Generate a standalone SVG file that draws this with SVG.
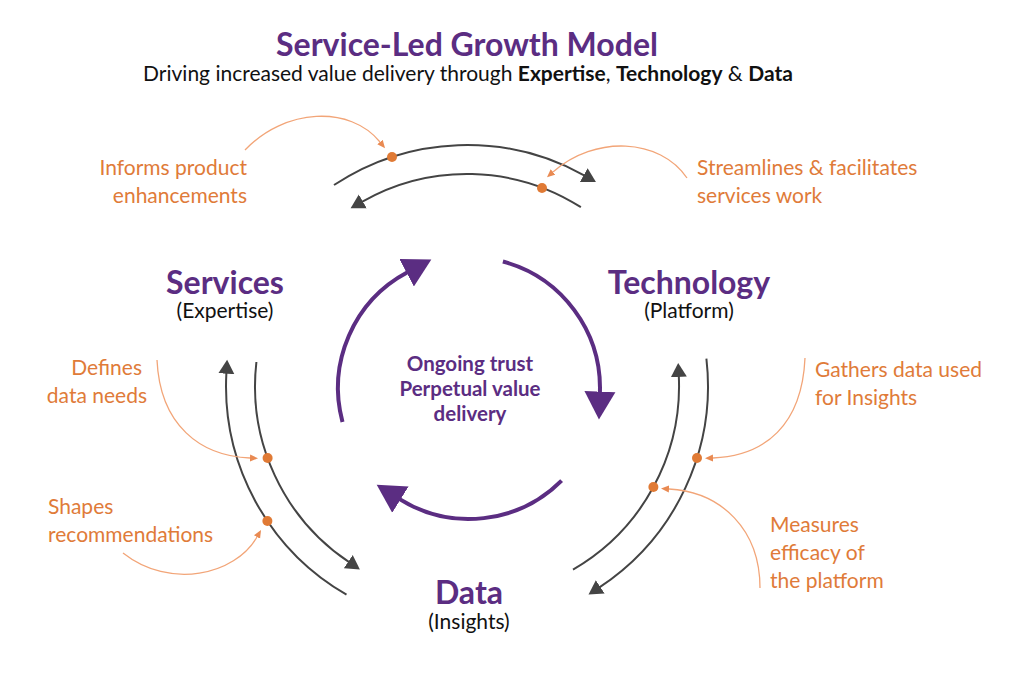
<svg xmlns="http://www.w3.org/2000/svg" width="1024" height="674" viewBox="0 0 1024 674">
<style>
text{font-family:Lato,"Open Sans","Liberation Sans",sans-serif}
.title{font-size:32px;font-weight:700;fill:#5b2d82}
.sub{font-size:21px;fill:#111}
.b{font-weight:700}
.head{font-size:32px;font-weight:700;fill:#5b2d82}
.paren{font-size:21px;fill:#111}
.ctr{font-size:20.5px;font-weight:700;fill:#5b2d82}
.note{font-size:21px;fill:#e07b39}
.purple{fill:none;stroke:#5b2d82;stroke-width:4;marker-end:url(#pa)}
.grey{fill:none;stroke:#444;stroke-width:2;marker-end:url(#ga)}
.call{fill:none;stroke:#f2a578;stroke-width:1.3;marker-end:url(#oa)}
.dot{fill:#e07a35}
</style>
<defs>
<marker id="pa" markerUnits="userSpaceOnUse" viewBox="0 -16 30 32" markerWidth="30" markerHeight="32" refX="1" refY="0" orient="auto"><path d="M0,-15.5 L28,0 L0,15.5 z" fill="#5b2d82"/></marker>
<marker id="ga" markerUnits="userSpaceOnUse" viewBox="0 -9 16 18" markerWidth="16" markerHeight="18" refX="1" refY="0" orient="auto"><path d="M0,-8 L14,0 L0,8 z" fill="#444"/></marker>
<marker id="oa" markerUnits="userSpaceOnUse" viewBox="0 -4 9 8" markerWidth="9" markerHeight="8" refX="0" refY="0" orient="auto"><path d="M0,-3.5 L8,0 L0,3.5 z" fill="#e98a52"/></marker>
</defs>
<rect width="1024" height="674" fill="#fff"/>
<g id="title">
<text class="title" x="467" y="56" text-anchor="middle">Service-Led Growth Model</text>
<text class="sub" x="468" y="81" text-anchor="middle">Driving increased value delivery through <tspan class="b">Expertise</tspan>, <tspan class="b">Technology</tspan> &amp; <tspan class="b">Data</tspan></text>
</g>
<g id="connectors">
<path class="purple" d="M342.5,421.9 A131,131 0 0 1 407.5,272.3"/>
<path class="purple" d="M502.9,261.5 A131,131 0 0 1 599.9,392.6"/>
<path class="purple" d="M561.6,480.6 A131,131 0 0 1 399.6,499.1"/>
<path class="grey" d="M334,185 A241,241 0 0 1 584.6,175.6"/>
<path class="grey" d="M580.9,207.2 A212,212 0 0 0 361.9,201.9"/>
<path class="grey" d="M573,569.6 A212,212 0 0 0 678.8,375.9"/>
<path class="grey" d="M706.4,358.7 A241,241 0 0 1 599.4,587.4"/>
<path class="grey" d="M346.5,594.7 A241,241 0 0 1 226.4,372.7"/>
<path class="grey" d="M256.4,362 A212,212 0 0 0 349.1,562.2"/>
</g>
<g id="center">
<text class="ctr" x="470" y="371" text-anchor="middle">Ongoing trust</text>
<text class="ctr" x="470" y="396" text-anchor="middle">Perpetual value</text>
<text class="ctr" x="470" y="421" text-anchor="middle">delivery</text>
</g>
<g id="services">
<text class="head" x="225" y="294" text-anchor="middle">Services</text>
<text class="paren" x="225" y="318" text-anchor="middle">(Expertise)</text>
</g>
<g id="technology">
<text class="head" x="689" y="294" text-anchor="middle">Technology</text>
<text class="paren" x="689" y="318" text-anchor="middle">(Platform)</text>
</g>
<g id="data">
<text class="head" x="469" y="604" text-anchor="middle">Data</text>
<text class="paren" x="469" y="629" text-anchor="middle">(Insights)</text>
</g>
<g id="informs">
<text class="note" x="247" y="175" text-anchor="end">Informs product</text>
<text class="note" x="247" y="203" text-anchor="end">enhancements</text>
<path class="call" d="M245,150 C285,108 350,105 380,142"/>
<circle class="dot" cx="392" cy="157" r="5"/>
</g>
<g id="streamlines">
<text class="note" x="697" y="175">Streamlines &amp; facilitates</text>
<text class="note" x="697" y="203">services work</text>
<path class="call" d="M687,178 C660,138 595,135 553,172"/>
<circle class="dot" cx="542" cy="188" r="5"/>
</g>
<g id="defines">
<text class="note" x="142" y="375" text-anchor="end">Defines</text>
<text class="note" x="147" y="403" text-anchor="end">data needs</text>
<path class="call" d="M157,360 C160,425 200,456 250,458"/>
<circle class="dot" cx="267.6" cy="458" r="5"/>
</g>
<g id="shapes">
<text class="note" x="48" y="514">Shapes</text>
<text class="note" x="48" y="542">recommendations</text>
<path class="call" d="M123,553 C170,590 235,575 257,537"/>
<circle class="dot" cx="267.4" cy="521" r="5"/>
</g>
<g id="gathers">
<text class="note" x="815" y="377">Gathers data used</text>
<text class="note" x="815" y="405">for Insights</text>
<path class="call" d="M805,358 C802,425 765,456 713,458"/>
<circle class="dot" cx="697" cy="458" r="5"/>
</g>
<g id="measures">
<text class="note" x="770" y="532">Measures</text>
<text class="note" x="770" y="560">efficacy of</text>
<text class="note" x="770" y="588">the platform</text>
<path class="call" d="M760,588 C760,530 722,492 669,489"/>
<circle class="dot" cx="653.4" cy="487" r="5"/>
</g>
</svg>
